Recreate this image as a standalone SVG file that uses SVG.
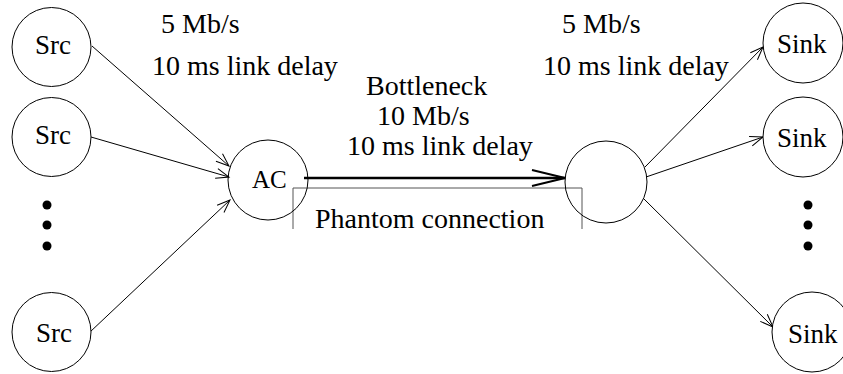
<svg xmlns="http://www.w3.org/2000/svg" width="843" height="374" viewBox="0 0 843 374">
<style>
.n{fill:#fff;stroke:#000;stroke-width:1}
.t{font-family:"Liberation Serif",serif;font-size:27px;fill:#000}
.l{font-size:28px}
.e{stroke:#000;stroke-width:1;fill:none}
.dot{fill:#000}
</style>
<defs>
<marker id="a" markerUnits="userSpaceOnUse" markerWidth="16" markerHeight="12" refX="13" refY="5" orient="auto" overflow="visible">
<path d="M0,0 L13,5 L0,10" fill="none" stroke="#000" stroke-width="1"/>
</marker>
<marker id="b" markerUnits="userSpaceOnUse" markerWidth="40" markerHeight="20" refX="33" refY="8" orient="auto" overflow="visible">
<path d="M0,0 L33,8 L0,16" fill="none" stroke="#000" stroke-width="2"/>
</marker>
</defs>
<rect width="843" height="374" fill="#fff"/>
<g id="connectors">
<line class="e" x1="92" y1="46" x2="229" y2="166" marker-end="url(#a)"/>
<line class="e" x1="91" y1="137" x2="229" y2="177" marker-end="url(#a)"/>
<line class="e" x1="90" y1="332" x2="230" y2="200" marker-end="url(#a)"/>
<line x1="304" y1="178" x2="565" y2="178" stroke="#000" stroke-width="2.5" marker-end="url(#b)"/>
<line class="e" x1="645" y1="167" x2="763" y2="47" marker-end="url(#a)"/>
<line class="e" x1="646" y1="177" x2="763" y2="137" marker-end="url(#a)"/>
<line class="e" x1="643" y1="198" x2="773" y2="327" marker-end="url(#a)"/>
<path d="M293,229 V188 H582 V229" fill="none" stroke="#555" stroke-width="1"/>
</g>
<g id="src1"><circle class="n" cx="51.5" cy="47" r="39.5"/><text class="t" x="35" y="54">Src</text></g>
<g id="src2"><circle class="n" cx="51.5" cy="137" r="39.5"/><text class="t" x="35" y="144">Src</text></g>
<g id="src3"><circle class="n" cx="51.5" cy="332" r="39.5"/><text class="t" x="36" y="342">Src</text></g>
<g id="dotsL"><circle class="dot" cx="47" cy="205" r="4.5"/><circle class="dot" cx="47" cy="225" r="4.5"/><circle class="dot" cx="47" cy="246" r="4.5"/></g>
<g id="ac"><circle class="n" cx="268" cy="180" r="40" style="fill:none"/><text class="t" x="252" y="188" style="font-size:25px">AC</text></g>
<g id="router"><circle class="n" cx="606" cy="182" r="41" style="fill:none"/></g>
<g id="sink1"><circle class="n" cx="803" cy="43" r="40"/><text class="t" x="777" y="53">Sink</text></g>
<g id="sink2"><circle class="n" cx="803" cy="137" r="40"/><text class="t" x="777" y="147">Sink</text></g>
<g id="sink3"><circle class="n" cx="812" cy="332" r="40"/><text class="t" x="788" y="343">Sink</text></g>
<g id="dotsR"><circle class="dot" cx="808" cy="205" r="4.5"/><circle class="dot" cx="808" cy="225" r="4.5"/><circle class="dot" cx="808" cy="246" r="4.5"/></g>
<g id="labels">
<text class="t l" x="161" y="33">5 Mb/s</text>
<text class="t l" x="152" y="75">10 ms link delay</text>
<text class="t l" x="562" y="33">5 Mb/s</text>
<text class="t l" x="543" y="75">10 ms link delay</text>
<text class="t l" x="366" y="95">Bottleneck</text>
<text class="t l" x="377" y="125">10 Mb/s</text>
<text class="t l" x="347" y="155">10 ms link delay</text>
<text class="t l" x="315" y="228">Phantom connection</text>
</g>
</svg>
